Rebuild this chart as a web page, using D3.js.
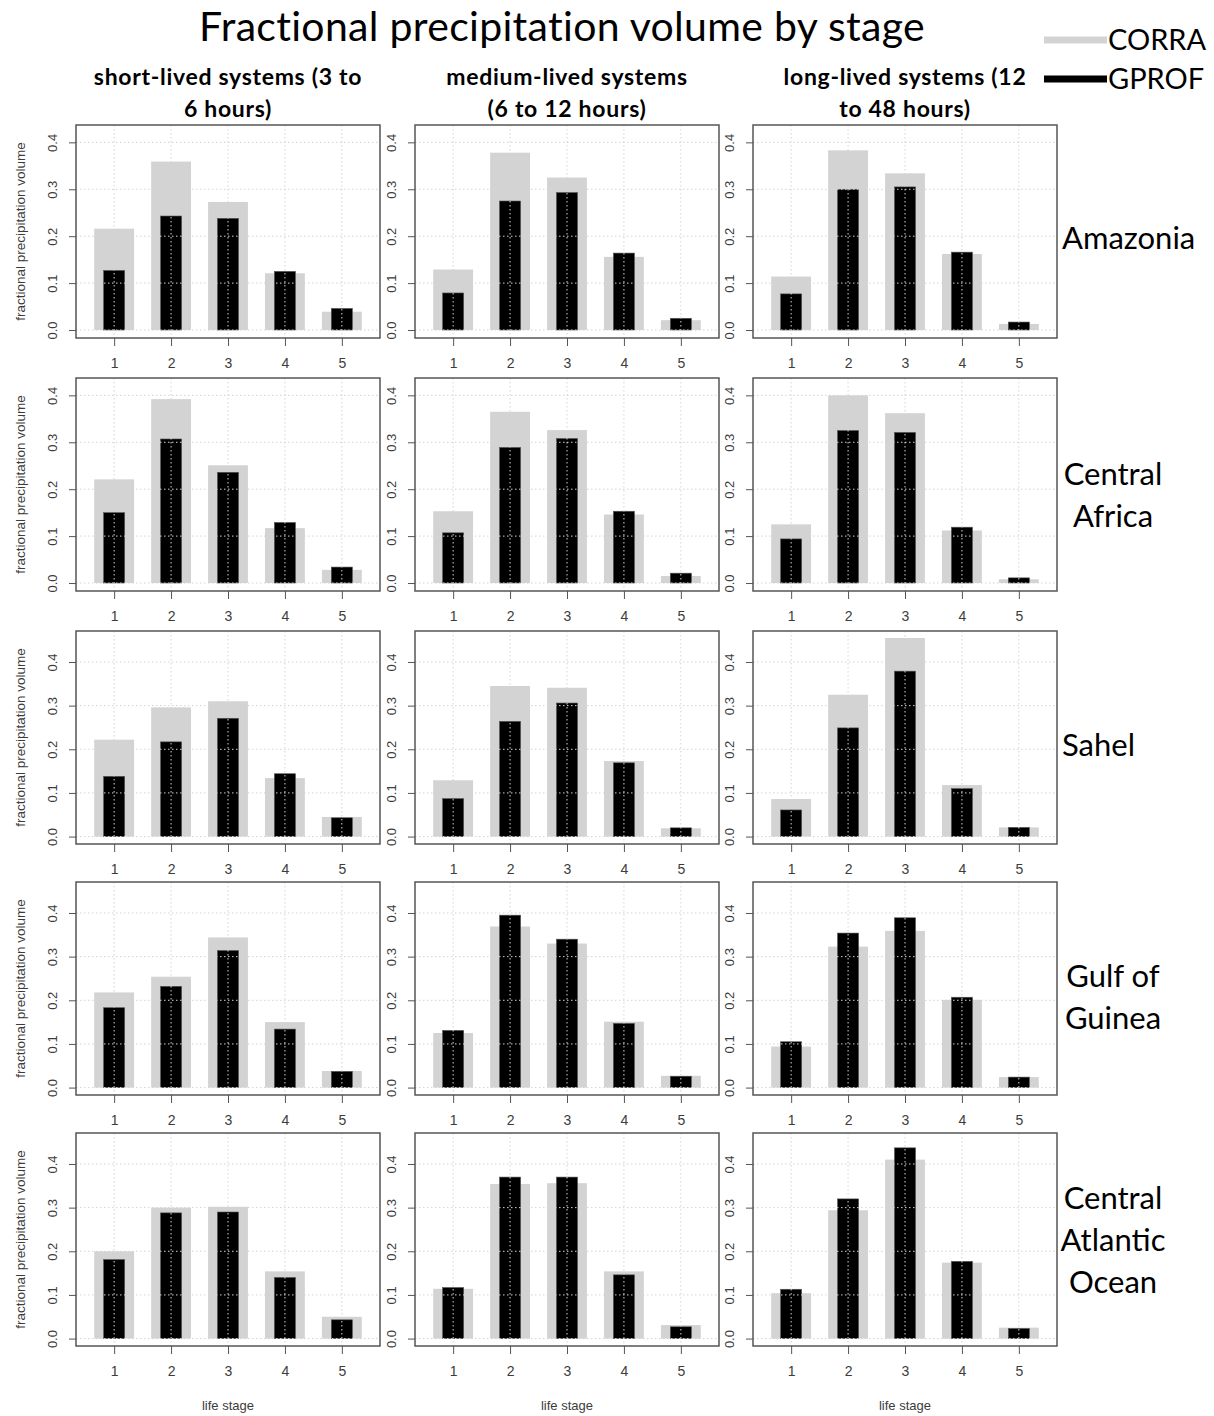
<!DOCTYPE html>
<html lang="en">
<head>
<meta charset="UTF-8">
<title>Fractional precipitation volume by stage</title>
<script src="https://cdn.jsdelivr.net/npm/d3@7"></script>
<style>
    body { margin: 0; background: #fff; }
    .tick text { font-family: "Liberation Sans", Arial, sans-serif; fill: #3c3c3c; }
    .big { font-family: Lato, "Open Sans", sans-serif; fill: #000; }
</style>
</head>
<body>
<div id="chart"></div>
<script>
    // life stages on the x axis
    const stages = [1, 2, 3, 4, 5];
    const yTicks = [0, 0.1, 0.2, 0.3, 0.4];

    // column headers (system lifetime)
    const durations = [
        ["short-lived systems (3 to", "6 hours)"],
        ["medium-lived systems", "(6 to 12 hours)"],
        ["long-lived systems (12", "to 48 hours)"]
    ];

    // row labels (regions)
    const regionNames = [
        ["Amazonia"],
        ["Central", "Africa"],
        ["Sahel"],
        ["Gulf of", "Guinea"],
        ["Central", "Atlantic", "Ocean"]
    ];

    // upper y limit of each row of panels
    const rowYMax = [0.437, 0.437, 0.471, 0.471, 0.471];

    // CORRA / GPROF values, one list per duration column (short, medium, long)
    const amazoniaCorra = [
        [0.216, 0.359, 0.273, 0.121, 0.039],
        [0.129, 0.378, 0.325, 0.156, 0.021],
        [0.114, 0.383, 0.334, 0.162, 0.013]
    ];
    const amazoniaGprof = [
        [0.127, 0.243, 0.238, 0.125, 0.046],
        [0.079, 0.275, 0.293, 0.164, 0.025],
        [0.077, 0.300, 0.305, 0.166, 0.017]
    ];
    const centralAfricaCorra = [
        [0.221, 0.392, 0.251, 0.117, 0.028],
        [0.153, 0.365, 0.326, 0.146, 0.015],
        [0.125, 0.400, 0.362, 0.112, 0.008]
    ];
    const centralAfricaGprof = [
        [0.150, 0.307, 0.236, 0.129, 0.034],
        [0.107, 0.289, 0.308, 0.153, 0.021],
        [0.094, 0.325, 0.321, 0.119, 0.011]
    ];
    const sahelCorra = [
        [0.222, 0.296, 0.310, 0.134, 0.045],
        [0.129, 0.345, 0.341, 0.173, 0.019],
        [0.086, 0.325, 0.455, 0.118, 0.021]
    ];
    const sahelGprof = [
        [0.138, 0.217, 0.271, 0.144, 0.043],
        [0.087, 0.264, 0.306, 0.169, 0.020],
        [0.061, 0.249, 0.379, 0.110, 0.021]
    ];
    const gulfOfGuineaCorra = [
        [0.218, 0.254, 0.344, 0.150, 0.038],
        [0.125, 0.369, 0.330, 0.151, 0.027],
        [0.094, 0.323, 0.359, 0.201, 0.024]
    ];
    const gulfOfGuineaGprof = [
        [0.183, 0.232, 0.314, 0.134, 0.037],
        [0.131, 0.395, 0.340, 0.147, 0.026],
        [0.105, 0.354, 0.389, 0.207, 0.024]
    ];
    const atlanticCorra = [
        [0.200, 0.300, 0.302, 0.154, 0.050],
        [0.114, 0.354, 0.356, 0.154, 0.031],
        [0.104, 0.294, 0.410, 0.174, 0.025]
    ];
    const atlanticGprof = [
        [0.181, 0.288, 0.290, 0.140, 0.043],
        [0.117, 0.370, 0.370, 0.146, 0.027],
        [0.113, 0.320, 0.437, 0.177, 0.023]
    ];

    const corraRows = [amazoniaCorra, centralAfricaCorra, sahelCorra, gulfOfGuineaCorra, atlanticCorra];
    const gprofRows = [amazoniaGprof, centralAfricaGprof, sahelGprof, gulfOfGuineaGprof, atlanticGprof];

    // layout
    const W = 1214, H = 1416;
    const colLeft = [76, 415, 753];
    const rowTop = [125, 378, 631, 882, 1133];
    const labelMid = [238, 495, 745, 997, 1240];
    const pw = 304, ph = 213;
    const grey = "#d3d3d3";

    const svg = d3.select("#chart").append("svg")
        .attr("width", W)
        .attr("height", H);

    // title
    svg.append("text")
        .attr("class", "big")
        .attr("x", 562).attr("y", 41)
        .attr("text-anchor", "middle")
        .style("font-size", "41px")
        .style("letter-spacing", "0.3px")
        .text("Fractional precipitation volume by stage");

    // legend
    const legend = svg.append("g");
    [["CORRA", grey, 40], ["GPROF", "#000", 79]].forEach(([name, col, ly]) => {
        legend.append("line")
            .attr("x1", 1044).attr("x2", 1107)
            .attr("y1", ly).attr("y2", ly)
            .attr("stroke", col).attr("stroke-width", 7);
        legend.append("text")
            .attr("class", "big")
            .attr("x", 1108).attr("y", ly + 10)
            .style("font-size", "29px")
            .text(name);
    });

    // column headers
    durations.forEach((lines, c) => {
        const t = svg.append("text")
            .attr("class", "big")
            .attr("text-anchor", "middle")
            .style("font-size", "23px")
            .style("letter-spacing", "0.7px")
            .style("font-weight", "bold");
        lines.forEach((l, i) => {
            t.append("tspan")
                .attr("x", colLeft[c] + pw / 2)
                .attr("y", 85 + i * 32)
                .text(l);
        });
    });

    // row labels
    regionNames.forEach((lines, r) => {
        const single = lines.length === 1;
        const t = svg.append("text")
            .attr("class", "big")
            .attr("text-anchor", single ? "start" : "middle")
            .style("font-size", "31px");
        lines.forEach((l, i) => {
            t.append("tspan")
                .attr("x", single ? 1062 : 1113)
                .attr("y", labelMid[r] + 11 + (i - (lines.length - 1) / 2) * 42)
                .text(l);
        });
    });

    const x = d3.scaleLinear().domain([0.33, 5.67]).range([0, pw]);

    rowTop.forEach((top, r) => {
        const y = d3.scaleLinear().domain([-0.017, rowYMax[r]]).range([ph, 0]);

        colLeft.forEach((left, c) => {
            const g = svg.append("g")
                .attr("transform", "translate(" + left + "," + top + ")");

            const corra = corraRows[r][c];
            const gprof = gprofRows[r][c];

            // CORRA bars (wide, grey)
            g.append("g")
                .selectAll("rect")
                .data(stages)
                .join("rect")
                .attr("x", d => x(d - 0.35))
                .attr("width", x(0.7) - x(0))
                .attr("y", (d, i) => y(corra[i]))
                .attr("height", (d, i) => y(0) - y(corra[i]))
                .attr("fill", grey);

            // GPROF bars (narrow, black)
            g.append("g")
                .selectAll("rect")
                .data(stages)
                .join("rect")
                .attr("x", d => x(d - 0.185))
                .attr("width", x(0.37) - x(0))
                .attr("y", (d, i) => y(gprof[i]))
                .attr("height", (d, i) => y(0) - y(gprof[i]))
                .attr("fill", "#000")
                .attr("stroke", "#555")
                .attr("stroke-width", 0.6);

            // dotted grid on top of the bars
            const grid = g.append("g")
                .attr("stroke", grey)
                .attr("stroke-dasharray", "1.5,2.5")
                .attr("stroke-width", 1);
            grid.selectAll(".h")
                .data(yTicks)
                .join("line")
                .attr("x1", 0).attr("x2", pw)
                .attr("y1", d => y(d)).attr("y2", d => y(d));
            grid.selectAll(".v")
                .data(stages)
                .join("line")
                .attr("x1", d => x(d)).attr("x2", d => x(d))
                .attr("y1", 0).attr("y2", ph);

            // y axis, labels parallel to the axis
            g.append("g")
                .call(d3.axisLeft(y)
                    .tickValues(yTicks)
                    .tickFormat(d3.format(".1f"))
                    .tickSize(7))
                .call(a => a.select(".domain").remove())
                .call(a => a.selectAll("line").attr("stroke", "#555"))
                .call(a => a.selectAll("text")
                    .attr("x", null)
                    .attr("dy", null)
                    .attr("transform", "translate(-19,0) rotate(-90)")
                    .attr("text-anchor", "middle")
                    .style("font-size", "13px"));

            // x axis
            g.append("g")
                .attr("transform", "translate(0," + ph + ")")
                .call(d3.axisBottom(x)
                    .tickValues(stages)
                    .tickFormat(d3.format("d"))
                    .tickSize(8)
                    .tickPadding(12))
                .call(a => a.select(".domain").remove())
                .call(a => a.selectAll("line").attr("stroke", "#555"))
                .call(a => a.selectAll("text").style("font-size", "14px"));

            // plot box
            g.append("rect")
                .attr("width", pw).attr("height", ph)
                .attr("fill", "none")
                .attr("stroke", "#555")
                .attr("stroke-width", 1.5);

            if (c === 0) {
                g.append("text")
                    .attr("transform", "translate(-51," + (ph / 2) + ") rotate(-90)")
                    .attr("text-anchor", "middle")
                    .style("font-family", "'Liberation Sans', Arial, sans-serif")
                    .style("font-size", "13.5px")
                    .style("fill", "#3c3c3c")
                    .text("fractional precipitation volume");
            }
            if (r === rowTop.length - 1) {
                g.append("text")
                    .attr("x", pw / 2).attr("y", ph + 64)
                    .attr("text-anchor", "middle")
                    .style("font-family", "'Liberation Sans', Arial, sans-serif")
                    .style("font-size", "13px")
                    .style("fill", "#3c3c3c")
                    .text("life stage");
            }
        });
    });
</script>
</body>
</html>
